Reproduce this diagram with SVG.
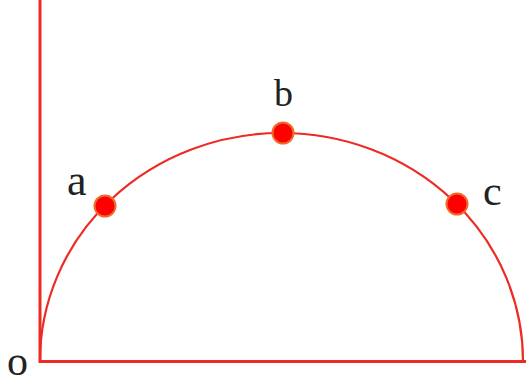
<svg xmlns="http://www.w3.org/2000/svg" width="526" height="384" viewBox="0 0 526 384">
<style>
.ax{stroke:#ee2a24;stroke-width:3;fill:none}
.arc{stroke:#ee2a24;stroke-width:2.2;fill:none}
.pt{fill:#ff0000;stroke:#f06a2a;stroke-width:2}
text{font-family:'Liberation Serif','Times New Roman',serif;fill:#222}
</style>
<rect width="526" height="384" fill="#fff"/>
<g id="connectors">
<path class="ax" d="M40,0 V361.5 H526"/>
<path class="arc" d="M40,361 A241.5,228 0 0 1 523,361"/>
</g>
<g id="a"><circle class="pt" cx="105" cy="206" r="10.5"/><text x="67" y="195" font-size="44">a</text></g>
<g id="b"><circle class="pt" cx="283" cy="133" r="10.5"/><text x="274" y="106" font-size="38">b</text></g>
<g id="c"><circle class="pt" cx="457" cy="204" r="10.5"/><text x="483" y="205" font-size="42">c</text></g>
<g id="o"><text x="7" y="375" font-size="42">o</text></g>
</svg>
